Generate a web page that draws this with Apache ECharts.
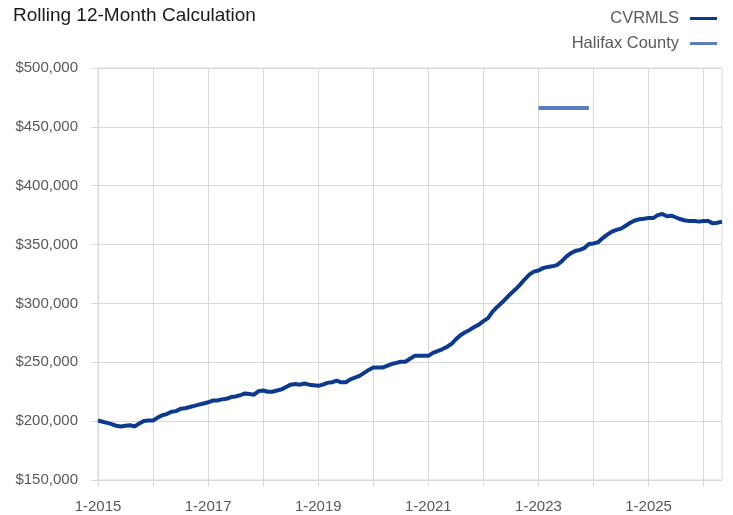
<!DOCTYPE html>
<html>
<head>
<meta charset="utf-8">
<script src="https://cdn.jsdelivr.net/npm/echarts@6/dist/echarts.min.js"></script>
<style>html,body{margin:0;padding:0;background:#fff;}#c{width:733px;height:515px;}</style>
</head>
<body>
<div id="c"></div>
<script>
// Monthly categories Jan 2015 .. May 2026
const categories = [];
for (let y = 2015; y <= 2026; y++) {
  for (let m = 1; m <= 12; m++) {
    if (y === 2026 && m > 5) break;
    categories.push(m + '-' + y);
  }
}

// CVRMLS rolling 12-month values (thousands of dollars)
const cvrmlsK = [
  200.5,199.5,198.5,197.5,196,195.5,196,196.5,195.5,198,200.2,200.5,
  200.5,203,205,206,208,208.5,210.5,211,212,213,214,215,
  216,217.5,217.5,218.5,219,220.5,221,222,223.5,223,222.5,225.5,
  226,225,225,226,227,229,231,231.5,231,232,231,230.5,
  230,231,232.5,233,234.5,233,233,235.5,237,238.5,241,243.5,
  245.5,245.5,245.5,247,248.5,249.5,250.5,250.5,253,255.5,255.5,255.5,
  255.5,258,259.5,261,263,265.5,269.5,273,275.5,277.5,280,282,
  285,287.5,293,297,300.5,304.5,308.5,312,316,320.5,324.5,327,
  328,330,331,331.5,332.5,335.5,339.5,342.5,344.5,345.5,347,350.5,
  351,352,355.5,358.5,361,362.5,363.5,366,368.5,370.5,371.5,372,
  372.5,372.5,375,376,374,374.5,373,371.5,370.5,370,370,369.5,
  370,370,368,368.5,369.5
];

// Halifax County: values only for Jan 2023 .. Dec 2023 (thousands)
const halifaxStart = '1-2023';
const halifaxK = [466,466,466,466,466,466,466,466,466,466,466,466];

const yTicks = [150000, 200000, 250000, 300000, 350000, 400000, 450000, 500000];

const cvrmls = cvrmlsK.map(v => v * 1000);
const hStartIdx = categories.indexOf(halifaxStart);
const halifax = categories.map((c, i) => {
  const k = i - hStartIdx;
  return (k >= 0 && k < halifaxK.length) ? halifaxK[k] * 1000 : null;
});

const FONT = 'Liberation Sans';
const chart = echarts.init(document.getElementById('c'), null, {renderer: 'canvas'});
chart.setOption({
  animation: false,
  backgroundColor: '#ffffff',
  title: {
    text: 'Rolling 12-Month Calculation',
    left: 8, top: 1,
    textStyle: {fontFamily: FONT, fontSize: 19, fontWeight: 'normal', color: '#1a1a1a'}
  },
  legend: {
    orient: 'vertical',
    right: 11, top: 5,
    align: 'right',
    itemWidth: 27, itemHeight: 3,
    itemGap: 8,
    icon: 'rect',
    textStyle: {fontFamily: FONT, fontSize: 16.5, color: '#595959', padding: [0, 6, 0, 0]},
    data: ['CVRMLS', 'Halifax County']
  },
  grid: {
    left: 98, right: 11, top: 68, bottom: 35,
    show: true, borderColor: '#d9d9d9', borderWidth: 1
  },
  xAxis: {
    type: 'category',
    data: categories,
    boundaryGap: false,
    axisLine: {lineStyle: {color: '#d9d9d9', width: 1}},
    axisTick: {show: true, interval: 11, length: 6, lineStyle: {color: '#d9d9d9'}},
    axisLabel: {interval: 23, margin: 19, fontFamily: FONT, fontSize: 15, color: '#595959'},
    splitLine: {show: true, interval: 11, lineStyle: {color: '#d9d9d9', width: 1}}
  },
  yAxis: {
    type: 'value',
    min: yTicks[0], max: yTicks[yTicks.length - 1], interval: 50000,
    axisLine: {show: true, lineStyle: {color: '#d9d9d9'}},
    axisTick: {show: true, length: 7, lineStyle: {color: '#d9d9d9'}},
    axisLabel: {
      margin: 20, fontFamily: FONT, fontSize: 15, color: '#595959',
      formatter: v => '$' + v.toLocaleString('en-US')
    },
    splitLine: {show: true, lineStyle: {color: '#d9d9d9', width: 1}}
  },
  series: [
    {
      name: 'CVRMLS', type: 'line', data: cvrmls,
      showSymbol: false, symbol: 'none',
      lineStyle: {color: '#0b3a8e', width: 4},
      itemStyle: {color: '#0b3a8e'}
    },
    {
      name: 'Halifax County', type: 'line', data: halifax,
      showSymbol: false, symbol: 'none', connectNulls: false,
      lineStyle: {color: '#5a7dbf', width: 4},
      itemStyle: {color: '#5a7dbf'}
    }
  ]
});
</script>
</body>
</html>
